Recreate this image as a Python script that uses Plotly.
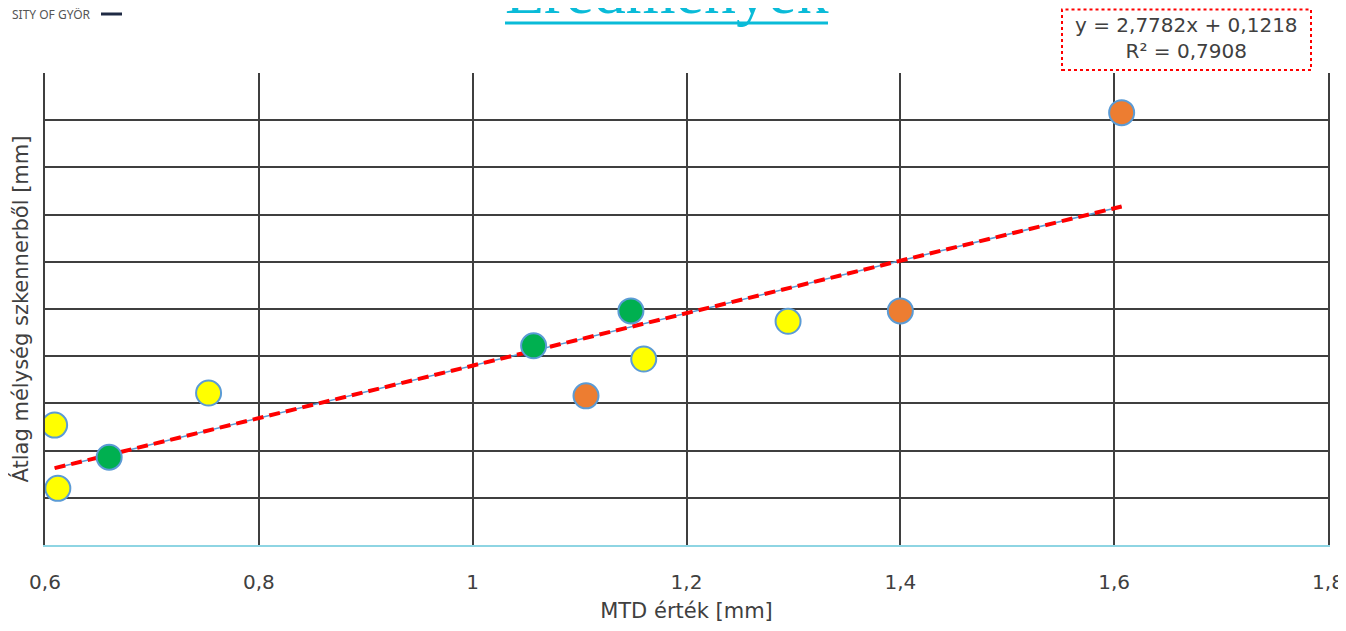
import plotly.graph_objects as go

# Data
mtd = [0.609, 0.612, 0.660, 0.753, 1.057, 1.106, 1.148, 1.160, 1.295, 1.400, 1.607]
depth = [2.27, 1.60, 1.93, 2.61, 3.11, 2.58, 3.48, 2.97, 3.37, 3.48, 5.58]
colors = ["#FFFF00", "#FFFF00", "#00B050", "#FFFF00", "#00B050", "#ED7D31",
          "#00B050", "#FFFF00", "#FFFF00", "#ED7D31", "#ED7D31"]
slope = 2.7782
intercept = 0.1218
r2 = 0.7908
x_ticks = [0.6, 0.8, 1.0, 1.2, 1.4, 1.6, 1.8]

trend_x = [min(mtd), max(mtd)]
trend_y = [slope * v + intercept for v in trend_x]

fig = go.Figure()
fig.add_trace(go.Scatter(x=trend_x, y=trend_y, mode="lines",
                         line=dict(color="#5B9BD5", width=1.5), hoverinfo="skip"))
fig.add_trace(go.Scatter(x=trend_x, y=trend_y, mode="lines",
                         line=dict(color="#FF0000", width=4, dash="11px,6px"), hoverinfo="skip"))
fig.add_trace(go.Scatter(x=mtd, y=depth, mode="markers",
                         marker=dict(size=25, color=colors, line=dict(color="#5B9BD5", width=2))))

# The page body has an 8px margin, so the figure is sized/offset to compensate
# (and kept small enough that the page never overflows the window).
OFF = 8
grid = "#3F3F3F"
fig.update_layout(
    width=1346 - OFF, height=631 - 2 * OFF,
    margin=dict(l=45 - OFF, r=18, t=73 - OFF, b=86 - OFF),
    paper_bgcolor="white", plot_bgcolor="white",
    showlegend=False,
    separators=", ",
    font=dict(family="DejaVu Sans", color="#404040", size=20),
    xaxis=dict(range=[0.6, 1.8], tickvals=x_ticks, showgrid=True, gridcolor=grid, gridwidth=2,
               zeroline=False, showline=True, linecolor="#8ED5E3", linewidth=2, automargin=False,
               ticks="outside", ticklen=18, tickcolor="rgba(0,0,0,0)",
               tickfont=dict(size=20, color="#404040"),
               title=dict(text="MTD érték [mm]", font=dict(size=21, color="#404040"), standoff=14)),
    yaxis=dict(range=[1, 6], dtick=0.5, showgrid=True, gridcolor=grid, gridwidth=2,
               zeroline=False, showline=True, linecolor=grid, linewidth=2, mirror=True,
               showticklabels=False, ticks="", automargin=False,
               title=dict(text="Átlag mélység szkennerből [mm]", font=dict(size=21, color="#404040"),
                          standoff=10)),
)

def px_x(p):
    return (p - 45) / 1283

def px_y(p):
    return (545 - p) / 472

# Equation box
fig.add_shape(type="rect", xref="paper", yref="paper",
              x0=px_x(1062), x1=px_x(1311), y0=px_y(70), y1=px_y(9.5),
              line=dict(color="#FF0000", width=2, dash="dot"), fillcolor="white", layer="above")
fig.add_annotation(xref="paper", yref="paper", x=px_x(1186), y=px_y(38),
                   text=f"y = {str(slope).replace('.', ',')}x + {str(intercept).replace('.', ',')}<br>R² = {str(r2).replace('.', ',')}",
                   showarrow=False, font=dict(size=20, color="#404040"), xanchor="center", yanchor="middle")

# Title (cut off at the top, as in the original slide)
fig.add_annotation(xref="paper", yref="paper", x=px_x(666), y=px_y(29),
                   text="Eredmények", showarrow=False, xanchor="center", yanchor="bottom",
                   font=dict(family="Liberation Serif", size=64, color="#0ABBD8"))
fig.add_shape(type="line", xref="paper", yref="paper", x0=px_x(505), x1=px_x(828),
              y0=px_y(23), y1=px_y(23), line=dict(color="#0ABBD8", width=3))

# Logo fragment
fig.add_annotation(xref="paper", yref="paper", x=px_x(10), y=px_y(14),
                   text="SITY OF GYŐR", showarrow=False, xanchor="left", yanchor="middle",
                   font=dict(family="Noto Sans", size=12, color="#555555"))
fig.add_shape(type="line", xref="paper", yref="paper", x0=px_x(101), x1=px_x(122),
              y0=px_y(14), y1=px_y(14), line=dict(color="#1F2A44", width=3))

fig.write_html("out.html")
